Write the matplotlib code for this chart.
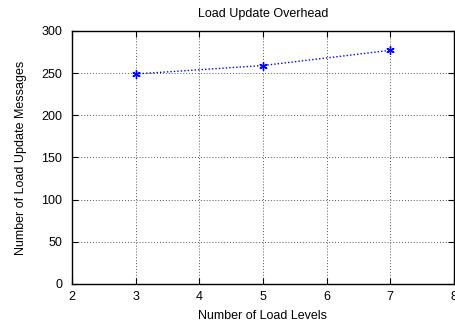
import matplotlib
matplotlib.use("Agg")
import matplotlib.pyplot as plt

plt.rcParams['font.family'] = ['Liberation Sans', 'DejaVu Sans']
plt.rcParams['font.size'] = 9

# data
load_levels = [3, 5, 7]
update_msgs = [249, 259, 277]

fig = plt.figure(figsize=(4.56, 3.24), dpi=100)
ax = fig.add_axes([0.158, 0.1235, 0.8375, 0.781])

ax.plot(load_levels, update_msgs, linestyle=(0, (1, 1.5)), color='#0000ff', linewidth=1.0,
        marker=(6, 2, 0), markersize=6, markeredgewidth=1.0)

ax.set_xlim(2, 8)
ax.set_ylim(0, 300)
ax.set_xticks(range(2, 9))
ax.set_yticks(range(0, 301, 50))
ax.grid(True, color='#555555', linestyle=(0, (1, 2)), linewidth=0.7)
ax.tick_params(direction='in', top=True, right=True, length=4, width=0.8)
ax.tick_params(axis='x', pad=5)
ax.tick_params(axis='y', pad=7)
for spine in ax.spines.values():
    spine.set_linewidth(1.0)

ax.set_title("Load Update Overhead", fontsize=9, pad=10)
ax.set_xlabel("Number of Load Levels", labelpad=5)
ax.set_ylabel("Number of Load Update Messages", labelpad=10)

fig.savefig("out.png", dpi=100)
